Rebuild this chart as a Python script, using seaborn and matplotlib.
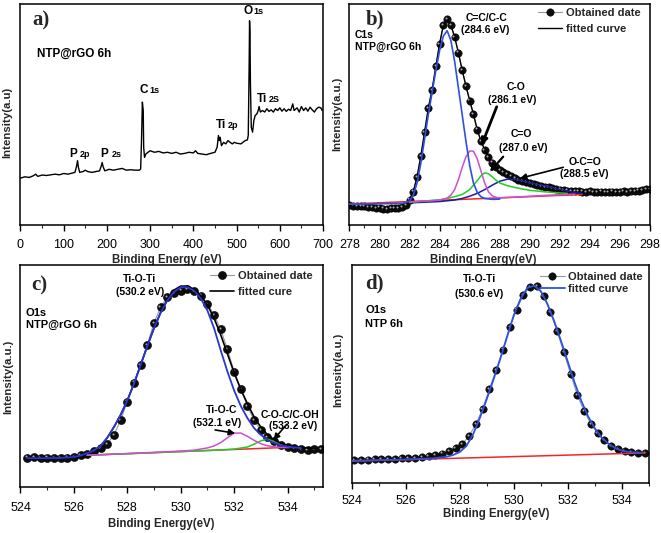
import matplotlib
matplotlib.use('Agg')
import matplotlib.pyplot as plt
import matplotlib.transforms as mtransforms
from matplotlib.ticker import MultipleLocator
import seaborn as sns

sns.set_style('ticks')
plt.rcParams['font.family'] = ['Liberation Sans', 'DejaVu Sans']
plt.rcParams['axes.linewidth'] = 1.1

# ---------------- panel a : survey spectrum ----------------
a_energy = [0, 10, 20, 30, 35, 40, 50, 60, 70, 80, 90, 100, 110, 120, 126, 130, 132, 134, 137,
            145, 150, 155, 165, 175, 183, 187, 189, 191, 195, 205, 215, 225, 235, 245, 255, 265,
            275, 278, 280, 282, 284, 285, 287, 290, 295, 300, 310, 320, 330, 340, 350, 360, 370,
            380, 390, 400, 405, 410, 420, 430, 440, 450, 455, 458, 460, 462, 465, 470, 475, 480,
            485, 490, 495, 500, 510, 520, 525, 527, 529, 530, 531, 532, 534, 537, 540, 543, 547,
            550, 552, 555, 560, 565, 570, 575, 580, 585, 590, 595, 600, 605, 610, 615, 620, 625,
            630, 633, 640, 645, 650, 655, 660, 665, 670, 675, 680, 685, 690, 695, 698]
a_counts = [0.212, 0.218, 0.215, 0.223, 0.230, 0.220, 0.226, 0.224, 0.227, 0.230, 0.227, 0.233,
            0.230, 0.235, 0.238, 0.268, 0.291, 0.261, 0.238, 0.242, 0.248, 0.242, 0.238, 0.242,
            0.245, 0.268, 0.283, 0.265, 0.245, 0.252, 0.248, 0.252, 0.256, 0.248, 0.250, 0.248,
            0.248, 0.253, 0.382, 0.556, 0.518, 0.352, 0.306, 0.321, 0.329, 0.336, 0.329, 0.333,
            0.326, 0.329, 0.324, 0.329, 0.321, 0.324, 0.329, 0.326, 0.336, 0.324, 0.321, 0.318,
            0.324, 0.329, 0.352, 0.405, 0.382, 0.397, 0.359, 0.374, 0.367, 0.382, 0.374, 0.367,
            0.374, 0.370, 0.367, 0.382, 0.385, 0.405, 0.715, 0.924, 0.867, 0.639, 0.442, 0.420,
            0.473, 0.495, 0.503, 0.518, 0.536, 0.511, 0.518, 0.511, 0.526, 0.514, 0.521, 0.511,
            0.526, 0.518, 0.530, 0.515, 0.526, 0.514, 0.524, 0.518, 0.548, 0.518, 0.530, 0.511,
            0.536, 0.518, 0.530, 0.515, 0.533, 0.521, 0.511, 0.526, 0.533, 0.530, 0.518]

# ---------------- panel b : C1s ----------------
b_energy = [278.00, 278.25, 278.50, 278.75, 279.00, 279.25, 279.50, 279.75, 280.00, 280.25,
            280.50, 280.75, 281.00, 281.25, 281.50, 281.75, 282.00, 282.25, 282.50, 282.75,
            283.00, 283.25, 283.50, 283.75, 284.00, 284.25, 284.50, 284.75, 285.00, 285.25,
            285.50, 285.75, 286.00, 286.25, 286.50, 286.75, 287.00, 287.25, 287.50, 287.75,
            288.00, 288.25, 288.50, 288.75, 289.00, 289.25, 289.50, 289.75, 290.00, 290.25,
            290.50, 290.75, 291.00, 291.25, 291.50, 291.75, 292.00, 292.25, 292.50, 292.75,
            293.00, 293.25, 293.50, 293.75, 294.00, 294.25, 294.50, 294.75, 295.00, 295.25,
            295.50, 295.75, 296.00, 296.25, 296.50, 296.75, 297.00, 297.25, 297.50, 297.75, 298.00]
b_counts = [0.090, 0.088, 0.086, 0.084, 0.085, 0.082, 0.080, 0.078, 0.079, 0.074,
            0.073, 0.076, 0.075, 0.078, 0.080, 0.090, 0.115, 0.151, 0.218, 0.312,
            0.420, 0.530, 0.612, 0.718, 0.820, 0.905, 0.930, 0.905, 0.850, 0.780,
            0.701, 0.630, 0.563, 0.502, 0.432, 0.380, 0.340, 0.308, 0.282, 0.263,
            0.250, 0.238, 0.229, 0.220, 0.212, 0.204, 0.198, 0.194, 0.189, 0.185,
            0.180, 0.176, 0.172, 0.170, 0.166, 0.163, 0.160, 0.158, 0.156, 0.155,
            0.153, 0.152, 0.151, 0.150, 0.152, 0.149, 0.150, 0.151, 0.148, 0.150,
            0.151, 0.149, 0.150, 0.152, 0.150, 0.153, 0.154, 0.156, 0.158, 0.161, 0.163]
b_fit = b_counts
b_cc_x = [278.0, 279.0, 280.0, 281.0, 281.5, 282.0, 282.25, 282.5, 282.75, 283.0, 283.25, 283.5,
          283.75, 284.0, 284.25, 284.5, 284.75, 285.0, 285.25, 285.5, 285.75, 286.0, 286.25,
          286.5, 286.75, 287.0, 287.5, 288.0]
b_cc_y = [0.094, 0.095, 0.096, 0.097, 0.098, 0.108, 0.135, 0.190, 0.280, 0.390, 0.500, 0.600,
          0.700, 0.790, 0.855, 0.879, 0.835, 0.740, 0.620, 0.500, 0.380, 0.270, 0.190,
          0.148, 0.128, 0.120, 0.116, 0.117]
b_co_x = [282.0, 283.0, 284.0, 284.5, 284.75, 285.0, 285.25, 285.5, 285.75, 286.0, 286.25, 286.5,
          286.75, 287.0, 287.25, 287.5, 287.75, 288.0, 289.0, 290.0, 291.0, 292.0, 293.0]
b_co_y = [0.104, 0.108, 0.112, 0.122, 0.135, 0.160, 0.205, 0.260, 0.308, 0.335, 0.334, 0.300,
          0.245, 0.190, 0.150, 0.132, 0.125, 0.123, 0.126, 0.130, 0.134, 0.137, 0.140]
b_c_o_x = [282.0, 283.0, 284.0, 284.5, 285.0, 285.5, 286.0, 286.5, 286.75, 287.0, 287.25, 287.5,
           287.75, 288.0, 288.5, 289.0, 289.5, 290.0, 291.0, 292.0, 292.5]
b_c_o_y = [0.103, 0.108, 0.114, 0.120, 0.128, 0.138, 0.160, 0.200, 0.222, 0.236, 0.232, 0.218,
           0.203, 0.190, 0.178, 0.170, 0.163, 0.157, 0.150, 0.145, 0.143]
b_occ_x = [282.0, 283.0, 284.0, 285.0, 285.5, 286.0, 286.5, 287.0, 287.5, 288.0, 288.5, 289.0,
           289.5, 290.0, 290.5, 291.0, 291.5, 292.0, 292.5, 293.0, 293.5]
b_occ_y = [0.100, 0.103, 0.106, 0.113, 0.120, 0.130, 0.143, 0.160, 0.180, 0.198, 0.207, 0.206,
           0.200, 0.191, 0.184, 0.177, 0.170, 0.161, 0.153, 0.147, 0.142]
b_base_x = [278.0, 293.5]
b_base_y = [0.095, 0.138]

# ---------------- panel c : O1s NTP@rGO ----------------
c_energy = [524.25, 524.50, 524.75, 525.00, 525.25, 525.50, 525.75, 526.00, 526.25, 526.50,
            526.75, 527.00, 527.25, 527.50, 527.75, 528.00, 528.25, 528.50, 528.75, 529.00,
            529.25, 529.50, 529.75, 530.00, 530.25, 530.50, 530.75, 531.00, 531.25, 531.50,
            531.75, 532.00, 532.25, 532.50, 532.75, 533.00, 533.25, 533.50, 533.75, 534.00,
            534.25, 534.50, 534.75, 535.00, 535.25]
c_counts = [0.132, 0.133, 0.131, 0.132, 0.130, 0.131, 0.132, 0.135, 0.142, 0.150,
            0.160, 0.175, 0.195, 0.235, 0.300, 0.385, 0.470, 0.550, 0.640, 0.740,
            0.810, 0.855, 0.875, 0.885, 0.892, 0.883, 0.862, 0.825, 0.775, 0.710,
            0.620, 0.520, 0.440, 0.365, 0.300, 0.255, 0.225, 0.205, 0.190, 0.180,
            0.174, 0.170, 0.168, 0.170, 0.172]
c_tioti_x = [524.25, 525.0, 525.5, 526.0, 526.25, 526.5, 526.75, 527.0, 527.25, 527.5, 527.75,
             528.0, 528.25, 528.5, 528.75, 529.0, 529.25, 529.5, 529.75, 530.0, 530.25, 530.5,
             530.75, 531.0, 531.25, 531.5, 531.75, 532.0, 532.25, 532.5, 532.75, 533.0, 533.25,
             533.5, 533.75, 534.0, 534.25, 534.5]
c_tioti_y = [0.130, 0.130, 0.131, 0.135, 0.142, 0.152, 0.165, 0.185, 0.222, 0.270, 0.325,
             0.390, 0.465, 0.550, 0.635, 0.715, 0.785, 0.840, 0.880, 0.900, 0.900, 0.885,
             0.850, 0.795, 0.715, 0.615, 0.520, 0.435, 0.365, 0.310, 0.265, 0.235, 0.212,
             0.198, 0.188, 0.182, 0.178, 0.176]
c_fit_x = [524.25, 525.0, 525.5, 526.0, 526.25, 526.5, 526.75, 527.0, 527.25, 527.5, 527.75,
           528.0, 528.25, 528.5, 528.75, 529.0, 529.25, 529.5, 529.75, 530.0, 530.25, 530.5,
           530.75, 531.0, 531.25, 531.5, 531.75, 532.0, 532.25, 532.5, 532.75, 533.0, 533.25,
           533.5, 533.75, 534.0, 534.25, 534.5, 534.75, 535.0]
c_fit_y = [0.130, 0.130, 0.131, 0.135, 0.142, 0.152, 0.165, 0.185, 0.222, 0.270, 0.325,
           0.390, 0.465, 0.550, 0.635, 0.715, 0.787, 0.845, 0.887, 0.905, 0.905, 0.890,
           0.862, 0.820, 0.760, 0.685, 0.600, 0.515, 0.440, 0.375, 0.315, 0.270, 0.235,
           0.212, 0.197, 0.187, 0.181, 0.178, 0.176, 0.175]
c_tioc_x = [526.5, 527.5, 528.5, 529.5, 530.0, 530.5, 531.0, 531.25, 531.5, 531.75, 532.0,
            532.25, 532.5, 532.75, 533.0, 533.25, 533.5, 533.75, 534.0, 534.3]
c_tioc_y = [0.143, 0.148, 0.153, 0.159, 0.162, 0.166, 0.176, 0.185, 0.200, 0.222, 0.243,
            0.243, 0.228, 0.210, 0.195, 0.186, 0.181, 0.179, 0.178, 0.180]
c_coc_x = [526.5, 527.5, 528.5, 529.5, 530.5, 531.5, 532.0, 532.5, 532.75, 533.0, 533.25,
           533.5, 533.75, 534.0, 534.3]
c_coc_y = [0.143, 0.148, 0.152, 0.157, 0.162, 0.167, 0.171, 0.180, 0.193, 0.208, 0.215,
           0.205, 0.192, 0.183, 0.180]
c_base_x = [526.5, 534.3]
c_base_y = [0.143, 0.180]

# ---------------- panel d : O1s NTP ----------------
d_energy = [524.10, 524.35, 524.60, 524.85, 525.10, 525.35, 525.60, 525.85, 526.10, 526.35,
            526.60, 526.85, 527.10, 527.35, 527.60, 527.85, 528.10, 528.35, 528.60, 528.85,
            529.10, 529.35, 529.60, 529.85, 530.10, 530.35, 530.60, 530.85, 531.10, 531.35,
            531.60, 531.85, 532.10, 532.35, 532.60, 532.85, 533.10, 533.35, 533.60, 533.85,
            534.10, 534.35, 534.60, 534.85]
d_counts = [0.106, 0.106, 0.107, 0.108, 0.109, 0.110, 0.111, 0.113, 0.114, 0.116,
            0.119, 0.123, 0.128, 0.135, 0.145, 0.160, 0.180, 0.215, 0.272, 0.340,
            0.432, 0.518, 0.612, 0.715, 0.795, 0.862, 0.900, 0.902, 0.858, 0.785,
            0.698, 0.600, 0.500, 0.403, 0.330, 0.272, 0.228, 0.195, 0.170, 0.155,
            0.146, 0.141, 0.139, 0.139]
d_fit_x = [524.0, 525.0, 526.0, 527.0, 527.5, 527.75, 528.0, 528.25, 528.5, 528.75, 529.0,
           529.25, 529.5, 529.75, 530.0, 530.25, 530.5, 530.75, 531.0, 531.25, 531.5, 531.75,
           532.0, 532.25, 532.5, 532.75, 533.0, 533.25, 533.5, 533.75, 534.0, 534.25, 534.5,
           534.75]
d_fit_y = [0.102, 0.105, 0.108, 0.113, 0.120, 0.128, 0.142, 0.170, 0.225, 0.300, 0.385,
           0.475, 0.570, 0.670, 0.770, 0.845, 0.895, 0.905, 0.880, 0.820, 0.740, 0.650,
           0.555, 0.460, 0.375, 0.305, 0.250, 0.208, 0.180, 0.160, 0.148, 0.142, 0.140,
           0.139]
d_base_x = [524.0, 534.85]
d_base_y = [0.100, 0.138]

BLUE = '#2f4fe0'
NAVY = '#1c1c9c'
MAGENTA = '#cc4fd0'
GREEN = '#22cc22'
RED = '#f02828'
DATA_LINE = '#8d99a6'

fig = plt.figure(figsize=(6.61, 5.33), dpi=100)
ax_a = fig.add_axes([0.0310, 0.5779, 0.4577, 0.4146])
ax_b = fig.add_axes([0.5287, 0.5779, 0.4546, 0.4146])
ax_c = fig.add_axes([0.0310, 0.0863, 0.4577, 0.4165])
ax_d = fig.add_axes([0.5318, 0.0938, 0.4501, 0.4090])

BOLD = dict(fontweight='bold', color='black')


def line(ax, x, y, color, lw=1.2, z=3):
    sns.lineplot(x=x, y=y, ax=ax, color=color, lw=lw, zorder=z, estimator=None)
    return ax.lines[-1]


def points(ax, x, y, ms):
    sns.lineplot(x=x, y=y, ax=ax, color=DATA_LINE, lw=0.8, marker='o', markersize=ms,
                 markerfacecolor='#0d0d0d', markeredgecolor='black', markeredgewidth=0.4,
                 zorder=2, estimator=None)
    h = ax.lines[-1]
    hl = mtransforms.offset_copy(ax.transData, fig=fig, x=-1.2, y=1.2, units='dots')
    sns.scatterplot(x=x, y=y, ax=ax, s=2.2, color='#a8a8a8', linewidth=0,
                    transform=hl, zorder=2.5, legend=False)
    return h


def style(ax, xlim, major, minor, xlabel, ylabel, pad, xl, yl):
    ax.set_xlim(*xlim)
    ax.set_ylim(0, 1)
    ax.set_yticks([])
    ax.xaxis.set_major_locator(MultipleLocator(major))
    ax.xaxis.set_minor_locator(MultipleLocator(minor))
    ax.tick_params(axis='x', which='major', direction='out', length=4, width=1.0,
                   labelsize=9, pad=pad, colors='black')
    ax.tick_params(axis='x', which='minor', direction='out', length=2.5, width=0.8)
    ax.set_xlabel(xlabel, fontsize=8.3, fontweight='bold')
    ax.set_ylabel(ylabel, fontsize=8.2, fontweight='bold')
    ax.xaxis.set_label_coords(*xl)
    ax.yaxis.set_label_coords(*yl)
    for s in ax.spines.values():
        s.set_linewidth(1.1)
        s.set_color('black')


def letter(ax, x, y, t):
    ax.text(x, y, t, fontsize=15, fontweight='bold', family=['Liberation Serif', 'DejaVu Serif'],
            va='center', ha='left')


def peak_label(ax, x1, x2, y, main, sub):
    ax.text(x1, y, main, fontsize=8.5, va='baseline', ha='left', **BOLD)
    ax.text(x2, y, sub, fontsize=6.5, va='baseline', ha='left', **BOLD)


def arrow(ax, tail, head, lw=1.6):
    ax.annotate('', xy=head, xytext=tail,
                arrowprops=dict(arrowstyle='-|>', color='black', lw=lw, mutation_scale=9,
                                shrinkA=0, shrinkB=0))


# ----- a -----
line(ax_a, a_energy, a_counts, 'black', lw=1.0)
style(ax_a, (0, 700), 100, 50, 'Binding Energy (eV)', 'Intensity(a.u)', 6.0,
      (0.483, -0.133), (-0.026, 0.464))
letter(ax_a, 27, 0.925, 'a)')
ax_a.text(37.5, 0.774, 'NTP@rGO 6h', fontsize=8.5, va='center', ha='left', **BOLD)
peak_label(ax_a, 113, 138, 0.309, 'P', '2p')
peak_label(ax_a, 184, 210, 0.309, 'P', '2s')
peak_label(ax_a, 275, 299, 0.596, 'C', '1s')
peak_label(ax_a, 452, 480, 0.438, 'Ti', '2p')
peak_label(ax_a, 515.6, 540, 0.955, 'O', '1s')
peak_label(ax_a, 548, 575, 0.558, 'Ti', '2S')

# ----- b -----
h_data_b = points(ax_b, b_energy, b_counts, 5.3)
h_fit_b = line(ax_b, b_energy, b_fit, 'black', lw=1.0, z=2.2)
line(ax_b, b_base_x, b_base_y, RED, lw=1.1)
line(ax_b, b_occ_x, b_occ_y, NAVY, lw=1.1)
line(ax_b, b_c_o_x, b_c_o_y, GREEN, lw=1.1)
line(ax_b, b_co_x, b_co_y, MAGENTA, lw=1.1)
line(ax_b, b_cc_x, b_cc_y, BLUE, lw=1.2)
style(ax_b, (278, 298), 2, 1, 'Binding Energy(eV)', 'Intensity(a.u.)', 6.0,
      (0.445, -0.133), (-0.025, 0.502))
letter(ax_b, 279.1, 0.928, 'b)')
ax_b.text(278.37, 0.848, 'C1s', fontsize=7.5, va='baseline', ha='left', **BOLD)
ax_b.text(278.37, 0.794, 'NTP@rGO 6h', fontsize=7.5, va='baseline', ha='left', **BOLD)
for x, y, t in [(287.13, 0.925, 'C=C/C-C'), (287.05, 0.867, '(284.6 eV)'),
                (289.06, 0.611, 'C-O'), (288.86, 0.553, '(286.1 eV)'),
                (289.46, 0.397, 'C=O'), (289.57, 0.336, '(287.0 eV)'),
                (293.67, 0.271, 'O-C=O'), (293.60, 0.216, '(288.5 eV)')]:
    ax_b.text(x, y, t, fontsize=7.5, va='baseline', ha='center', **BOLD)
arrow(ax_b, (287.8, 0.535), (286.8, 0.362), lw=2.0)
arrow(ax_b, (288.23, 0.309), (287.35, 0.241), lw=1.6)
arrow(ax_b, (292.23, 0.261), (289.34, 0.211), lw=1.2)
ax_b.legend([h_data_b, h_fit_b], ['Obtained date', 'fitted curve'], loc='upper left',
            bbox_to_anchor=(0.627, 0.983), frameon=False, borderpad=0, borderaxespad=0,
            handlelength=2.2, handletextpad=0.3, labelspacing=0.55,
            prop=dict(size=8, weight='bold'))

# ----- c -----
h_data_c = points(ax_c, c_energy, c_counts, 5.8)
line(ax_c, c_base_x, c_base_y, RED, lw=1.1)
line(ax_c, c_coc_x, c_coc_y, GREEN, lw=1.1)
line(ax_c, c_tioc_x, c_tioc_y, MAGENTA, lw=1.1)
h_fit_c = line(ax_c, c_fit_x, c_fit_y, 'black', lw=1.2)
line(ax_c, c_tioti_x, c_tioti_y, '#2a35d8', lw=1.3)
style(ax_c, (524, 535.33), 2, 1, 'Binding Energy(eV)', 'Intensity(a.u.)', 6.5,
      (0.464, -0.140), (-0.024, 0.497))
letter(ax_c, 524.42, 0.91, 'c)')
ax_c.text(524.2, 0.77, 'O1s', fontsize=8, va='baseline', ha='left', **BOLD)
ax_c.text(524.2, 0.715, 'NTP@rGO 6h', fontsize=8, va='baseline', ha='left', **BOLD)
for x, y, t in [(528.45, 0.925, 'Ti-O-Ti'), (528.47, 0.865, '(530.2 eV)'),
                (531.54, 0.332, 'Ti-O-C'), (531.37, 0.275, '(532.1 eV)'),
                (534.10, 0.309, 'C-O-C/C-OH'), (534.22, 0.260, '(533.2 eV)')]:
    ax_c.text(x, y, t, fontsize=7.5, va='baseline', ha='center', **BOLD)
arrow(ax_c, (531.29, 0.257), (532.04, 0.242), lw=1.2)
arrow(ax_c, (533.97, 0.282), (533.47, 0.212), lw=1.2)
ax_c.legend([h_data_c, h_fit_c], ['Obtained date', 'fitted cure'], loc='upper left',
            bbox_to_anchor=(0.626, 0.975), frameon=False, borderpad=0, borderaxespad=0,
            handlelength=2.2, handletextpad=0.3, labelspacing=0.6,
            prop=dict(size=8, weight='bold'))

# ----- d -----
h_data_d = points(ax_d, d_energy, d_counts, 5.3)
line(ax_d, d_base_x, d_base_y, RED, lw=1.1)
h_fit_d = line(ax_d, d_fit_x, d_fit_y, '#3050dc', lw=1.3)
style(ax_d, (524, 535), 2, 1, 'Binding Energy(eV)', 'Intensity(a.u.)', 4.5,
      (0.485, -0.115), (-0.028, 0.520))
letter(ax_d, 524.5, 0.915, 'd)')
ax_d.text(524.5, 0.778, 'O1s', fontsize=8, va='baseline', ha='left', **BOLD)
ax_d.text(524.5, 0.714, 'NTP 6h', fontsize=8, va='baseline', ha='left', **BOLD)
ax_d.text(528.73, 0.923, 'Ti-O-Ti', fontsize=7.5, va='baseline', ha='center', **BOLD)
ax_d.text(528.73, 0.855, '(530.6 eV)', fontsize=7.5, va='baseline', ha='center', **BOLD)
ax_d.legend([h_data_d, h_fit_d], ['Obtained date', 'fitted curve'], loc='upper left',
            bbox_to_anchor=(0.634, 0.969), frameon=False, borderpad=0, borderaxespad=0,
            handlelength=2.2, handletextpad=0.3, labelspacing=0.2,
            prop=dict(size=8, weight='bold'))

fig.savefig('out.png', dpi=100)
